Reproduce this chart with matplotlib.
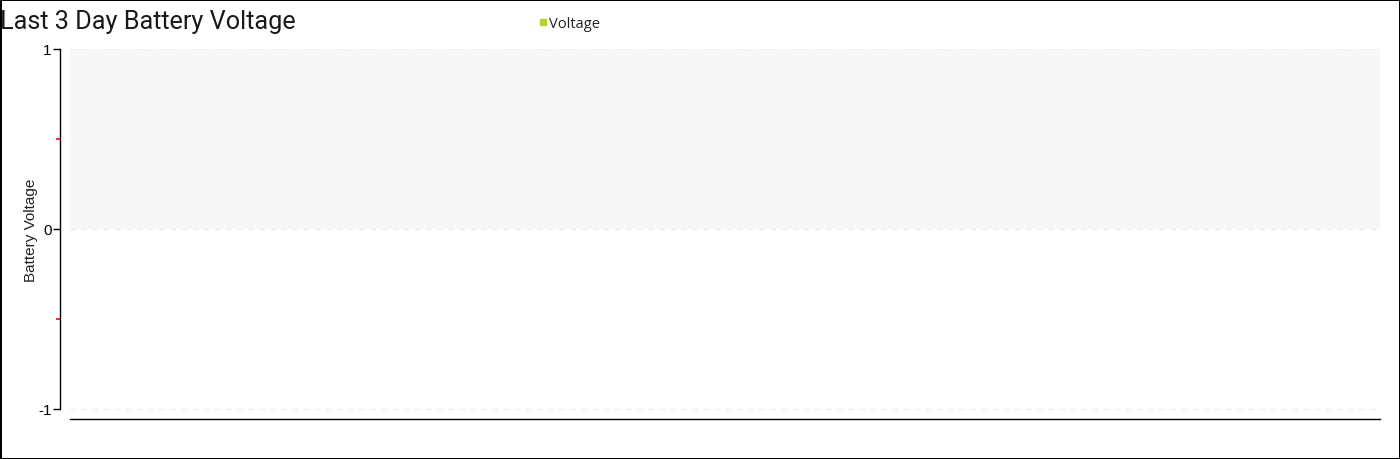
import matplotlib
matplotlib.use("Agg")
import matplotlib.pyplot as plt
from matplotlib.lines import Line2D

# data (chart has no readings yet)
times = []
voltage = []
band = [0, 1]          # shaded reference range
y_ticks = [-1, 0, 1]
y_minor = [-0.5, 0.5]

W, H = 1400, 460
fig = plt.figure(figsize=(W / 100, H / 100), dpi=100)
fig.patch.set_edgecolor("black")
fig.patch.set_linewidth(2)

# axes: x 60..1380 px, y 50..420 px (value -1 sits at 410)
ax = fig.add_axes([60 / W, 1 - 420 / H, 1320 / W, 370 / H])
ax.set_xlim(0, 1320)
ax.set_ylim(-1 - 10 / 180, 1)

ax.plot(times, voltage, color="#b4d335", label="Voltage")

# shaded band and faint dashed grid
ax.fill_between([10, 1320], band[0], band[1], color="#f7f7f7", lw=0)
for v in y_ticks:
    ax.plot([10, 1320], [v, v], color="#efefef", lw=1, ls=(0, (4, 4)))

for s in ["top", "right"]:
    ax.spines[s].set_visible(False)
ax.spines["left"].set_bounds(-1, 1)
ax.spines["bottom"].set_bounds(10, 1320)
ax.spines["left"].set_linewidth(1)
ax.spines["bottom"].set_linewidth(1)

ax.set_xticks([])
ax.set_yticks(y_ticks)
ax.set_yticklabels([str(v) for v in y_ticks], fontsize=11, family="Liberation Sans")
ax.set_yticks(y_minor, minor=True)
ax.tick_params(axis="y", which="major", length=5, width=1, pad=1)
ax.tick_params(axis="y", which="minor", length=3, width=1.2, color="#ff0000")

fig.text(31 / W, 1 - 230 / H, "Battery Voltage", fontsize=11, family="Liberation Sans",
         rotation=90, va="center", ha="center", color="#222222")

fig.text(0, 1 - 22 / H, "Last 3 Day Battery Voltage", fontsize=18.2, family="Roboto",
         va="center", ha="left", color="#1a1a1a")

# legend marker + text
fig.add_artist(Line2D([543 / W], [1 - 22.5 / H], marker="s", markersize=4,
                      color="#b4d335", ls="none", transform=fig.transFigure))
fig.text(549 / W, 1 - 24 / H, "Voltage", fontsize=10.5, family="Open Sans",
         va="center", ha="left", color="#222222")

fig.savefig("out.png", dpi=100)
